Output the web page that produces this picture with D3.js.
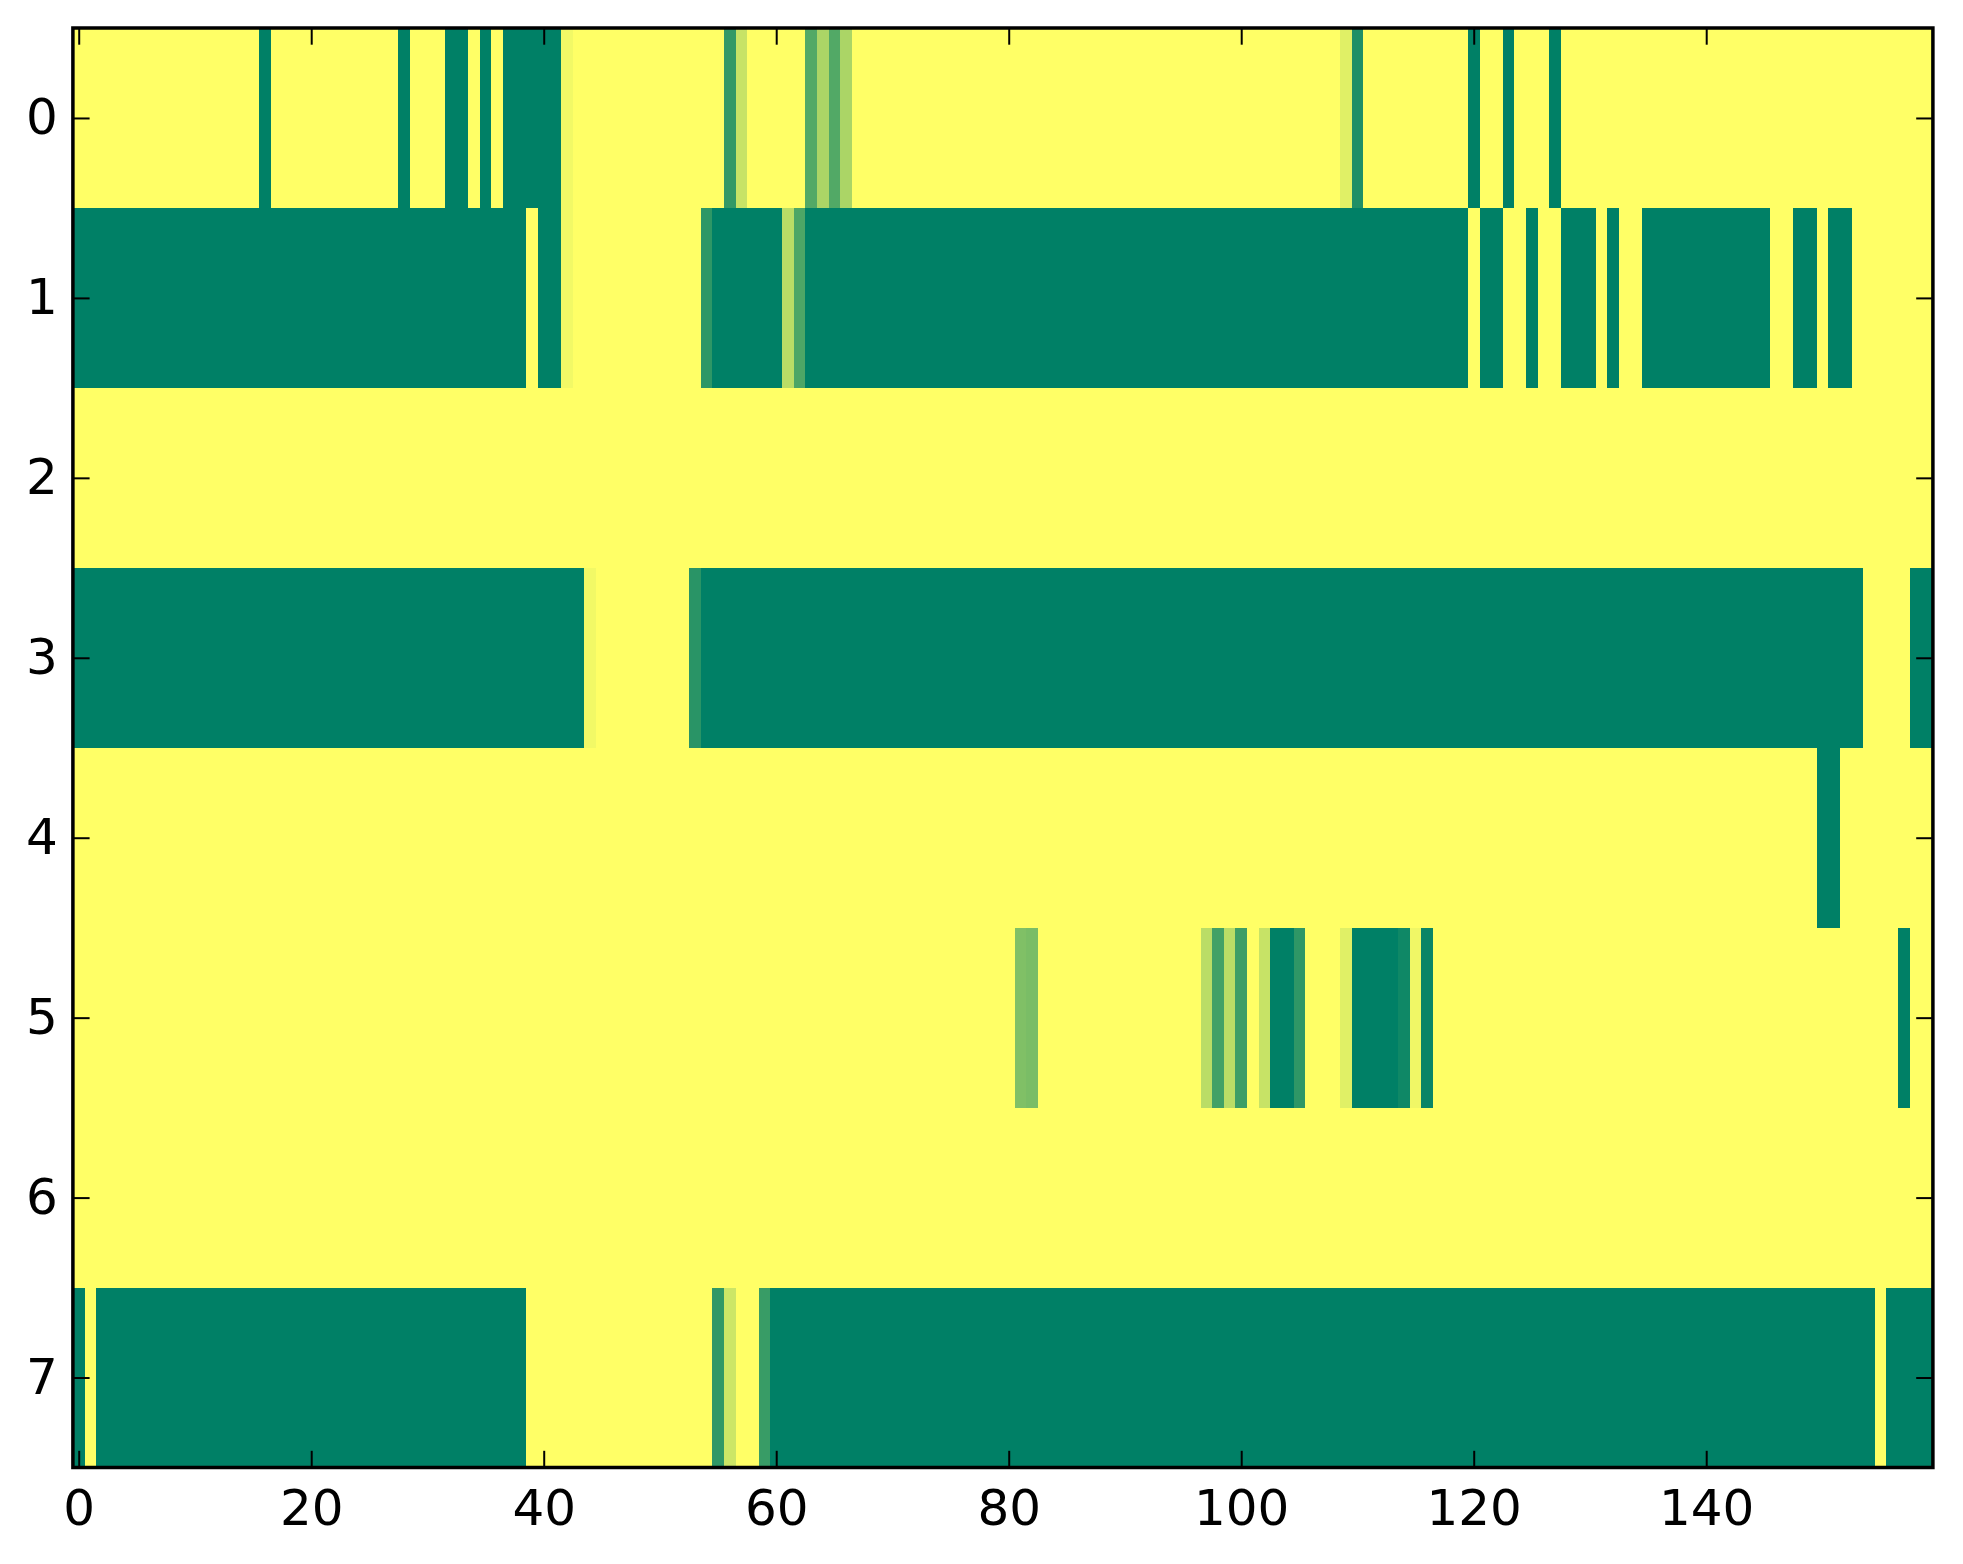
<!DOCTYPE html>
<html>
<head>
<meta charset="utf-8">
<script src="https://cdn.jsdelivr.net/npm/d3@7/dist/d3.min.js"></script>
<style>
  html, body { margin: 0; padding: 0; background: #ffffff; }
  svg { display: block; }
</style>
</head>
<body>
<svg id="chart" width="1963" height="1564"></svg>
<script>
// ---- Data (values in [0,1], colour-mapped with "summer") ----
const rowLabels = [0, 1, 2, 3, 4, 5, 6, 7];
const xTickValues = [0, 20, 40, 60, 80, 100, 120, 140];
const yTickValues = [0, 1, 2, 3, 4, 5, 6, 7];

const row0 = [
  1,1,1,1,1,1,1,1,1,1, 1,1,1,1,1,1,0,1,1,1, 1,1,1,1,1,1,1,1,0,1,
  1,1,0,0,1,0,1,0,0,0, 0,0,0.95,1,1,1,1,1,1,1, 1,1,1,1,1,1,0.2,0.78,1,1,
  1,1,1,0.32,0.67,0.32,0.67,1,1,1, 1,1,1,1,1,1,1,1,1,1, 1,1,1,1,1,1,1,1,1,1,
  1,1,1,1,1,1,1,1,1,1, 1,1,1,1,1,1,1,1,1,0.88, 0.12,1,1,1,1,1,1,1,1,1,
  0,1,1,0,1,1,1,0,1,1, 1,1,1,1,1,1,1,1,1,1, 1,1,1,1,1,1,1,1,1,1,
  1,1,1,1,1,1,1,1,1,1
];
const row1 = [
  0,0,0,0,0,0,0,0,0,0, 0,0,0,0,0,0,0,0,0,0, 0,0,0,0,0,0,0,0,0,0,
  0,0,0,0,0,0,0,0,0,1, 0,0,0.95,1,1,1,1,1,1,1, 1,1,1,1,0.18,0,0,0,0,0,
  0,0.73,0.3,0,0,0,0,0,0,0, 0,0,0,0,0,0,0,0,0,0, 0,0,0,0,0,0,0,0,0,0,
  0,0,0,0,0,0,0,0,0,0, 0,0,0,0,0,0,0,0,0,0, 0,0,0,0,0,0,0,0,0,0,
  1,0,0,1,1,0,1,1,0,0, 0,1,0,1,1,0,0,0,0,0, 0,0,0,0,0,0,1,1,0,0,
  1,0,0,1,1,1,1,1,1,1
];
const row2 = [
  1,1,1,1,1,1,1,1,1,1, 1,1,1,1,1,1,1,1,1,1, 1,1,1,1,1,1,1,1,1,1,
  1,1,1,1,1,1,1,1,1,1, 1,1,1,1,1,1,1,1,1,1, 1,1,1,1,1,1,1,1,1,1,
  1,1,1,1,1,1,1,1,1,1, 1,1,1,1,1,1,1,1,1,1, 1,1,1,1,1,1,1,1,1,1,
  1,1,1,1,1,1,1,1,1,1, 1,1,1,1,1,1,1,1,1,1, 1,1,1,1,1,1,1,1,1,1,
  1,1,1,1,1,1,1,1,1,1, 1,1,1,1,1,1,1,1,1,1, 1,1,1,1,1,1,1,1,1,1,
  1,1,1,1,1,1,1,1,1,1
];
const row3 = [
  0,0,0,0,0,0,0,0,0,0, 0,0,0,0,0,0,0,0,0,0, 0,0,0,0,0,0,0,0,0,0,
  0,0,0,0,0,0,0,0,0,0, 0,0,0,0,0.95,1,1,1,1,1, 1,1,1,0.16,0,0,0,0,0,0,
  0,0,0,0,0,0,0,0,0,0, 0,0,0,0,0,0,0,0,0,0, 0,0,0,0,0,0,0,0,0,0,
  0,0,0,0,0,0,0,0,0,0, 0,0,0,0,0,0,0,0,0,0, 0,0,0,0,0,0,0,0,0,0,
  0,0,0,0,0,0,0,0,0,0, 0,0,0,0,0,0,0,0,0,0, 0,0,0,0,0,0,0,0,0,0,
  0,0,0,0,1,1,1,1,0,0
];
const row4 = [
  1,1,1,1,1,1,1,1,1,1, 1,1,1,1,1,1,1,1,1,1, 1,1,1,1,1,1,1,1,1,1,
  1,1,1,1,1,1,1,1,1,1, 1,1,1,1,1,1,1,1,1,1, 1,1,1,1,1,1,1,1,1,1,
  1,1,1,1,1,1,1,1,1,1, 1,1,1,1,1,1,1,1,1,1, 1,1,1,1,1,1,1,1,1,1,
  1,1,1,1,1,1,1,1,1,1, 1,1,1,1,1,1,1,1,1,1, 1,1,1,1,1,1,1,1,1,1,
  1,1,1,1,1,1,1,1,1,1, 1,1,1,1,1,1,1,1,1,1, 1,1,1,1,1,1,1,1,1,1,
  0,0,1,1,1,1,1,1,1,1
];
const row5 = [
  1,1,1,1,1,1,1,1,1,1, 1,1,1,1,1,1,1,1,1,1, 1,1,1,1,1,1,1,1,1,1,
  1,1,1,1,1,1,1,1,1,1, 1,1,1,1,1,1,1,1,1,1, 1,1,1,1,1,1,1,1,1,1,
  1,1,1,1,1,1,1,1,1,1, 1,1,1,1,1,1,1,1,1,1, 1,0.5,0.48,1,1,1,1,1,1,1,
  1,1,1,1,1,1,1,0.73,0.26,0.73, 0.24,1,0.78,0,0,0.18,1,1,1,0.88, 0,0,0,0,0.06,0.94,0.04,1,1,1,
  1,1,1,1,1,1,1,1,1,1, 1,1,1,1,1,1,1,1,1,1, 1,1,1,1,1,1,1,1,1,1,
  1,1,1,1,1,1,1,0,1,1
];
const row6 = [
  1,1,1,1,1,1,1,1,1,1, 1,1,1,1,1,1,1,1,1,1, 1,1,1,1,1,1,1,1,1,1,
  1,1,1,1,1,1,1,1,1,1, 1,1,1,1,1,1,1,1,1,1, 1,1,1,1,1,1,1,1,1,1,
  1,1,1,1,1,1,1,1,1,1, 1,1,1,1,1,1,1,1,1,1, 1,1,1,1,1,1,1,1,1,1,
  1,1,1,1,1,1,1,1,1,1, 1,1,1,1,1,1,1,1,1,1, 1,1,1,1,1,1,1,1,1,1,
  1,1,1,1,1,1,1,1,1,1, 1,1,1,1,1,1,1,1,1,1, 1,1,1,1,1,1,1,1,1,1,
  1,1,1,1,1,1,1,1,1,1
];
const row7 = [
  0,1,0,0,0,0,0,0,0,0, 0,0,0,0,0,0,0,0,0,0, 0,0,0,0,0,0,0,0,0,0,
  0,0,0,0,0,0,0,0,0,1, 1,1,1,1,1,1,1,1,1,1, 1,1,1,1,1,0.19,0.8,1,1,0.22,
  0,0,0,0,0,0,0,0,0,0, 0,0,0,0,0,0,0,0,0,0, 0,0,0,0,0,0,0,0,0,0,
  0,0,0,0,0,0,0,0,0,0, 0,0,0,0,0,0,0,0,0,0, 0,0,0,0,0,0,0,0,0,0,
  0,0,0,0,0,0,0,0,0,0, 0,0,0,0,0,0,0,0,0,0, 0,0,0,0,0,0,0,0,0,0,
  0,0,0,0,0,1,0,0,0,0
];
const rows = [row0, row1, row2, row3, row4, row5, row6, row7];

// ---- Layout ----
const W = 1963, H = 1564;
const mLeft = 72.9, mRight = 1932.9, mTop = 28, mBottom = 1467.5;
const nCols = row0.length;

const svg = d3.select("#chart");
svg.append("rect").attr("width", W).attr("height", H).attr("fill", "#ffffff");

const x = d3.scaleLinear().domain([-0.5, nCols - 0.5]).range([mLeft, mRight]);
const y = d3.scaleLinear().domain([-0.5, rows.length - 0.5]).range([mTop, mBottom]);
// matplotlib "summer" colormap: (0,0.5,0.4) -> (1,1,0.4)
const color = d3.scaleLinear().domain([0, 1])
  .range(["rgb(0,128,102)", "rgb(255,255,102)"])
  .interpolate(d3.interpolateRgb);

const cells = [];
rows.forEach((r, i) => r.forEach((v, j) => cells.push({ i, j, v })));

svg.append("g").selectAll("rect").data(cells).join("rect")
  .attr("x", d => x(d.j - 0.5))
  .attr("y", d => y(d.i - 0.5))
  .attr("width", d => x(d.j + 0.5) - x(d.j - 0.5) + 0.4)
  .attr("height", d => y(d.i + 0.5) - y(d.i - 0.5) + 0.4)
  .attr("fill", d => color(d.v))
  .attr("shape-rendering", "crispEdges");

// ---- Axes (inward ticks on all four sides) ----
const tickLen = 16.7;
const fontFamily = "'DejaVu Sans', sans-serif";
const fontSize = 50;

function styleAxis(g, showLabels) {
  g.select(".domain").remove();
  g.selectAll(".tick line").attr("stroke", "#000").attr("stroke-width", 2);
  g.selectAll(".tick text")
    .attr("fill", "#000")
    .style("font-family", fontFamily)
    .style("font-size", fontSize + "px");
  if (!showLabels) g.selectAll(".tick text").remove();
}

const xAxisBottom = d3.axisBottom(x).tickValues(xTickValues)
  .tickSizeInner(-tickLen).tickSizeOuter(0).tickPadding(22).tickFormat(d3.format("d"));
svg.append("g").attr("transform", `translate(0,${mBottom})`).call(xAxisBottom)
  .call(g => styleAxis(g, true));

const xAxisTop = d3.axisTop(x).tickValues(xTickValues)
  .tickSizeInner(-tickLen).tickSizeOuter(0);
svg.append("g").attr("transform", `translate(0,${mTop})`).call(xAxisTop)
  .call(g => styleAxis(g, false));

const yAxisLeft = d3.axisLeft(y).tickValues(yTickValues)
  .tickSizeInner(-tickLen).tickSizeOuter(0).tickPadding(15)
  .tickFormat((d, k) => rowLabels[k]);
svg.append("g").attr("transform", `translate(${mLeft},0)`).call(yAxisLeft)
  .call(g => styleAxis(g, true));

const yAxisRight = d3.axisRight(y).tickValues(yTickValues)
  .tickSizeInner(-tickLen).tickSizeOuter(0);
svg.append("g").attr("transform", `translate(${mRight},0)`).call(yAxisRight)
  .call(g => styleAxis(g, false));

// ---- Spines ----
svg.append("rect")
  .attr("x", mLeft).attr("y", mTop)
  .attr("width", mRight - mLeft).attr("height", mBottom - mTop)
  .attr("fill", "none").attr("stroke", "#000").attr("stroke-width", 3.5);
</script>
</body>
</html>
